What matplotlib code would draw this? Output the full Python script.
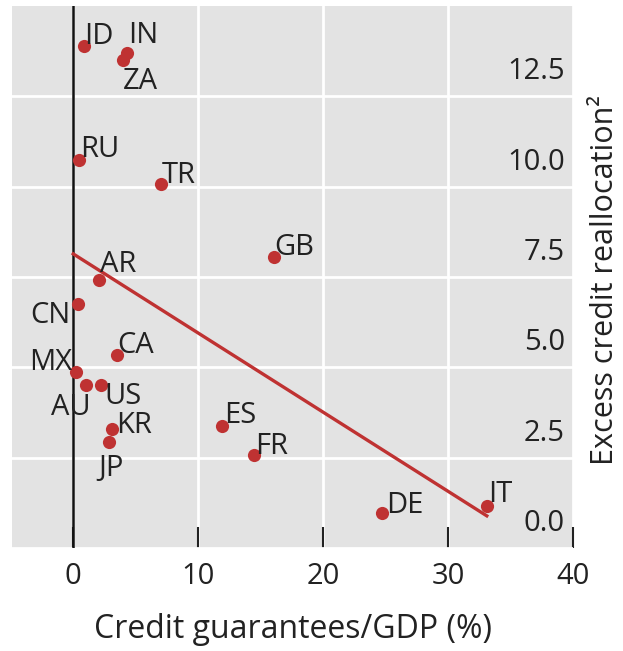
"""Excess credit reallocation vs credit guarantees/GDP."""

import matplotlib
matplotlib.use("Agg")
import matplotlib.pyplot as plt
import numpy as np

plt.rcParams["font.family"] = ["Open Sans", "DejaVu Sans"]

# data
countries = ["ID", "IN", "ZA", "RU", "TR", "GB", "AR", "CN", "CA",
             "MX", "AU", "US", "KR", "JP", "ES", "FR", "DE", "IT"]
guarantees = [0.9, 4.3, 4.0, 0.5, 7.0, 16.1, 2.1, 0.4, 3.5,
              0.2, 1.0, 2.2, 3.1, 2.9, 11.9, 14.5, 24.7, 33.1]
reallocation = [13.9, 13.7, 13.5, 10.75, 10.06, 8.06, 7.42, 6.74, 5.33,
                4.88, 4.52, 4.52, 3.3, 2.92, 3.39, 2.56, 0.97, 1.17]
fit_x = [0.0, 33.1]
fit_y = [8.14, 0.89]
x_ticks = [0, 10, 20, 30, 40]
y_ticks = [0.0, 2.5, 5.0, 7.5, 10.0, 12.5]

# label placement: (dx px, dy px, ha, va)
label_pos = {
    "ID": (0, 2, "left", "baseline"), "IN": (1, 10, "left", "baseline"),
    "ZA": (0, -7, "left", "top"), "RU": (1, 3, "left", "baseline"),
    "TR": (1, 1, "left", "baseline"), "GB": (0, 2, "left", "baseline"),
    "AR": (1, 8, "left", "baseline"), "CN": (-8, 3, "right", "top"),
    "CA": (0, 2, "left", "baseline"), "MX": (-3, 2, "right", "baseline"),
    "AU": (5, -8, "right", "top"), "US": (4, 3, "left", "top"),
    "KR": (4, 3, "left", "center"), "JP": (2, -12, "center", "top"),
    "ES": (2, 3, "left", "baseline"), "FR": (1, 1, "left", "baseline"),
    "DE": (4, 0, "left", "baseline"), "IT": (1, 4, "left", "baseline"),
}

RED = "#BF3232"
TXT = "#222222"
FS_TICK = 21
FS_LAB = 23
PX = 0.72  # points per pixel at dpi 100

fig = plt.figure(figsize=(6.23, 6.51), dpi=100)
ax = fig.add_axes([12 / 623, 103 / 651, 561 / 623, 542 / 651])
ax.set_facecolor("#E3E3E3")
for s in ax.spines.values():
    s.set_visible(False)

ax.set_xlim(-4.9, 40)
ax.set_ylim(0, 15)
ax.set_xticks(x_ticks)
ax.set_yticks(y_ticks)
ax.grid(True, color="white", linewidth=2)
ax.set_axisbelow(True)
ax.tick_params(axis="x", direction="in", length=15, width=1.5, color=TXT,
               labelsize=FS_TICK, pad=10, labelcolor=TXT)
ax.tick_params(axis="y", left=False, right=False, labelleft=False, labelright=False)

# y tick labels sit inside the panel, just above their gridlines
for v in y_ticks:
    ax.annotate(f"{v:.1f}", xy=(1, v), xycoords=("axes fraction", "data"),
                xytext=(-8 * PX, 10 * PX), textcoords="offset points",
                ha="right", va="bottom", fontsize=FS_TICK, color=TXT)

ax.axvline(0, color="#111111", linewidth=1.8, zorder=2)
ax.plot(fit_x, fit_y, color=RED, linewidth=2.4, zorder=3)
ax.scatter(guarantees, reallocation, s=90, color=RED, zorder=4, linewidths=0)

for c, x, y in zip(countries, guarantees, reallocation):
    dx, dy, ha, va = label_pos[c]
    ax.annotate(c, xy=(x, y), xytext=(dx * PX, dy * PX), textcoords="offset points",
                ha=ha, va=va, fontsize=FS_TICK, color=TXT, zorder=5)

ax.set_xlabel("Credit guarantees/GDP (%)", fontsize=FS_LAB, color=TXT, labelpad=16)
ax.yaxis.set_label_position("right")
ax.set_ylabel("Excess credit reallocation\u00b2", fontsize=22, color=TXT)
ax.yaxis.set_label_coords(1.03, 0.494)

fig.savefig("out.png", dpi=100)
